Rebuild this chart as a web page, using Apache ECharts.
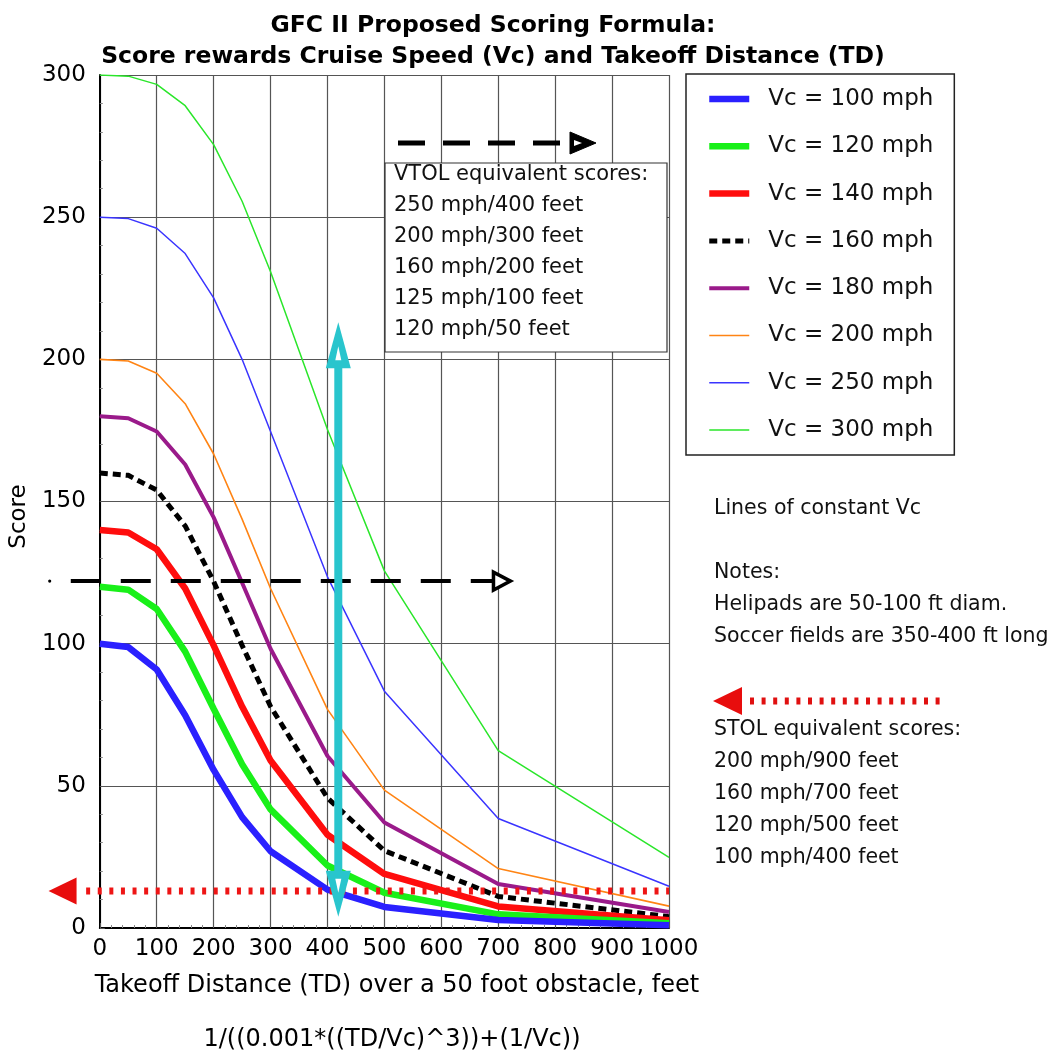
<!DOCTYPE html>
<html><head><meta charset="utf-8">
<script src="https://cdn.jsdelivr.net/npm/echarts@6/dist/echarts.min.js"></script>
<style>html,body{margin:0;padding:0;background:#fff}#c{width:1057px;height:1057px}</style>
</head><body><div id="c"></div>
<script>
// Takeoff distance (feet) sample points
const takeoffDistance = [0, 50, 100, 150, 200, 250, 300, 400, 500, 700, 1000];
// Scores
const vc100 = [100, 98.8, 90.9, 74.8, 55.6, 39.0, 27.0, 13.5, 7.4, 2.8, 1.0];
const vc120 = [120, 119.0, 112.2, 97.2, 77.1, 57.6, 41.7, 22.0, 12.4, 4.8, 1.7];
const vc140 = [140, 139.1, 133.2, 119.4, 99.4, 77.9, 58.9, 32.8, 19.0, 7.6, 2.7];
const vc160 = [160, 159.2, 154.0, 141.4, 121.9, 99.4, 77.9, 45.7, 27.2, 11.1, 4.0];
const vc180 = [180, 179.3, 174.6, 163.0, 144.4, 121.4, 98.2, 60.5, 37.1, 15.5, 5.6];
const vc200 = [200, 199.4, 195.1, 184.4, 166.7, 143.8, 119.4, 76.9, 48.5, 20.9, 7.7];
const vc250 = [250, 249.5, 246.1, 237.2, 221.6, 200.0, 174.6, 123.5, 83.3, 38.5, 14.7];
const vc300 = [300, 299.6, 296.7, 289.2, 275.5, 255.6, 230.8, 175.3, 125.6, 62.4, 24.8];
const seriesNames = ['Vc = 100 mph', 'Vc = 120 mph', 'Vc = 140 mph', 'Vc = 160 mph',
  'Vc = 180 mph', 'Vc = 200 mph', 'Vc = 250 mph', 'Vc = 300 mph'];

const titleLines = ['GFC II Proposed Scoring Formula:', 'Score rewards Cruise Speed (Vc) and Takeoff Distance (TD)'];
const xAxisTitle = 'Takeoff Distance (TD) over a 50 foot obstacle, feet';
const yAxisTitle = 'Score';
const formulaText = '1/((0.001*((TD/Vc)^3))+(1/Vc))';
const vtolLines = ['VTOL equivalent scores:', '250 mph/400 feet', '200 mph/300 feet',
  '160 mph/200 feet', '125 mph/100 feet', '120 mph/50 feet'];
const notesTop = ['Lines of constant Vc', '', 'Notes:', 'Helipads are 50-100 ft diam.', 'Soccer fields are 350-400 ft long'];
const stolLines = ['STOL equivalent scores:', '200 mph/900 feet', '160 mph/700 feet',
  '120 mph/500 feet', '100 mph/400 feet'];
// annotation levels (data space)
const vtolScoreLevel = 122;
const stolScoreLevel = 13;
const cyanArrowTD = 419;
const cyanArrowTop = 213;
const cyanArrowBottom = 4;

const FONT = 'DejaVu Sans';
const chart = echarts.init(document.getElementById('c'), null, {renderer: 'canvas'});

const styles = [
  {c: '#2a20ff', w: 6.5},
  {c: '#19f019', w: 6.5},
  {c: '#ff0d0d', w: 6.5},
  {c: '#000000', w: 5, t: [8, 5]},
  {c: '#9a1a8a', w: 4},
  {c: '#ff8414', w: 1.6},
  {c: '#3a34ff', w: 1.5},
  {c: '#2ae62a', w: 1.5}
];
const allVals = [vc100, vc120, vc140, vc160, vc180, vc200, vc250, vc300];

const series = allVals.map((vals, i) => ({
  name: seriesNames[i],
  type: 'line',
  data: takeoffDistance.map((x, j) => [x, vals[j]]),
  symbol: 'none',
  showSymbol: false,
  silent: true,
  animation: false,
  lineStyle: {color: styles[i].c, width: styles[i].w, type: styles[i].t || 'solid', cap: 'butt'},
  itemStyle: {color: styles[i].c},
  z: 2 + (7 - i) * 0.1
}));

const option = {
  animation: false,
  backgroundColor: '#ffffff',
  title: {
    text: titleLines.join('\n'),
    left: 488, top: 5, textAlign: 'center',
    textStyle: {fontFamily: FONT, fontSize: 23.5, fontWeight: 'bold', color: '#000', lineHeight: 31}
  },
  grid: {left: 99, top: 75, width: 570, height: 853, containLabel: false},
  legend: {
    orient: 'vertical', left: 686, top: 74,
    padding: [12, 21, 12, 20],
    itemWidth: 40, itemHeight: 14, itemGap: 21.3,
    borderColor: '#222', borderWidth: 1.5, backgroundColor: '#fff',
    selectedMode: false,
    itemStyle: {opacity: 0},
    lineStyle: {width: 'inherit', type: 'inherit'},
    textStyle: {fontFamily: FONT, fontSize: 23, color: '#111', padding: [0, 0, 0, 14], lineHeight: 26},
    data: seriesNames
  },
  xAxis: {
    type: 'value', min: 0, max: 1000, interval: 100,
    name: xAxisTitle, nameLocation: 'middle', nameGap: 46,
    nameTextStyle: {fontFamily: FONT, fontSize: 24, color: '#000', padding: [0, 0, 0, 25]},
    axisLine: {show: true, onZero: false, lineStyle: {color: '#000', width: 2}},
    axisTick: {show: true, inside: true, length: 5, lineStyle: {color: '#555'}},
    minorTick: {show: true, splitNumber: 5, length: 3, lineStyle: {color: '#888'}},
    axisLabel: {fontFamily: FONT, fontSize: 23, color: '#000', margin: 10, formatter: v => String(v)},
    splitLine: {show: true, lineStyle: {color: '#555', width: 1.2}}
  },
  yAxis: {
    type: 'value', min: 0, max: 300, interval: 50,
    name: yAxisTitle, nameLocation: 'middle', nameGap: 66, nameRotate: 90,
    nameTextStyle: {fontFamily: FONT, fontSize: 23, color: '#000', padding: [0, 30, 0, 0]},
    axisLine: {show: true, onZero: false, lineStyle: {color: '#000', width: 2}},
    axisTick: {show: true, inside: true, length: 5, lineStyle: {color: '#555'}},
    minorTick: {show: true, splitNumber: 5, length: 3, lineStyle: {color: '#888'}},
    axisLabel: {fontFamily: FONT, fontSize: 23, color: '#000', margin: 14, formatter: v => String(v)},
    splitLine: {show: true, lineStyle: {color: '#555', width: 1.2}}
  },
  series: series
};
chart.setOption(option);

const P = (x, y) => chart.convertToPixel({gridIndex: 0}, [x, y]);
const g = [];
const Z = 20;

// VTOL box
g.push({type: 'rect', z: Z, shape: {x: 385, y: 163, width: 282, height: 189},
  style: {fill: '#fff', stroke: '#333', lineWidth: 1.2}});
vtolLines.forEach((t, i) => g.push({type: 'text', z: Z + 1, x: 394, y: 175 + i * 31,
  style: {text: t, fontFamily: FONT, fontSize: 21, fill: '#111', verticalAlign: 'middle', align: 'left'}}));

// top dashed arrow (black, filled head)
(function () {
  const y = 143;
  g.push({type: 'line', z: Z, shape: {x1: 398, y1: y, x2: 575, y2: y},
    style: {stroke: '#000', lineWidth: 5, lineDash: [27, 18]}});
  g.push({type: 'polygon', z: Z, shape: {points: [[596, y], [570, y - 11], [570, y + 11]]},
    style: {fill: '#000', stroke: '#000', lineWidth: 1}});
  g.push({type: 'polygon', z: Z + 1, shape: {points: [[582, y], [574, y - 3], [574, y + 3]]},
    style: {fill: '#fff'}});
})();

// black dashed horizontal line at VTOL level, open head
(function () {
  const a = P(-51, vtolScoreLevel), b = P(693, vtolScoreLevel), tip = P(725, vtolScoreLevel);
  const d = P(-88, vtolScoreLevel);
  g.push({type: 'circle', z: Z, shape: {cx: d[0], cy: d[1], r: 1.6}, style: {fill: '#000'}});
  g.push({type: 'line', z: Z, shape: {x1: a[0], y1: a[1], x2: b[0], y2: b[1]},
    style: {stroke: '#000', lineWidth: 4, lineDash: [30, 20]}});
  g.push({type: 'polygon', z: Z, shape: {points: [[tip[0] - 2, tip[1]], [tip[0] - 19, tip[1] - 9], [tip[0] - 19, tip[1] + 9]]},
    style: {fill: '#fff', stroke: '#000', lineWidth: 3.5, lineJoin: 'miter'}});
})();

// red dotted line at STOL level with left head
(function () {
  const a = P(-24, stolScoreLevel), b = P(1000, stolScoreLevel), tip = P(-90, stolScoreLevel);
  g.push({type: 'line', z: Z, shape: {x1: a[0], y1: a[1], x2: b[0], y2: b[1]},
    style: {stroke: '#ee1515', lineWidth: 7, lineDash: [4, 7.6]}});
  g.push({type: 'polygon', z: Z, shape: {points: [[tip[0], tip[1]], [tip[0] + 28, tip[1] - 13.5], [tip[0] + 28, tip[1] + 13.5]]},
    style: {fill: '#e80d0d'}});
})();

// cyan double arrow
(function () {
  const top = P(cyanArrowTD, cyanArrowTop), bot = P(cyanArrowTD, cyanArrowBottom);
  const x = top[0], c = '#29c5cd';
  const headH = 46, halfW = 12.5;
  g.push({type: 'line', z: Z + 2, shape: {x1: x, y1: top[1] + headH - 2, x2: x, y2: bot[1] - headH + 2},
    style: {stroke: c, lineWidth: 8}});
  g.push({type: 'polygon', z: Z + 2, shape: {points: [[x, top[1]], [x - halfW, top[1] + headH], [x + halfW, top[1] + headH]]},
    style: {fill: c}});
  g.push({type: 'polygon', z: Z + 3, shape: {points: [[x, top[1] + 24], [x - 3, top[1] + 38], [x + 3, top[1] + 38]]},
    style: {fill: '#fff'}});
  g.push({type: 'polygon', z: Z + 2, shape: {points: [[x, bot[1]], [x - halfW, bot[1] - headH], [x + halfW, bot[1] - headH]]},
    style: {fill: c}});
  g.push({type: 'polygon', z: Z + 3, shape: {points: [[x, bot[1] - 24], [x - 3, bot[1] - 38], [x + 3, bot[1] - 38]]},
    style: {fill: '#fff'}});
})();

// right-side notes
notesTop.forEach((t, i) => {
  if (!t) return;
  const ys = [509, 541, 573, 605, 637];
  g.push({type: 'text', z: Z, x: 714, y: ys[i],
    style: {text: t, fontFamily: FONT, fontSize: 20.5, fill: '#111', verticalAlign: 'middle', align: 'left'}});
});
// right red dotted arrow
g.push({type: 'line', z: Z, shape: {x1: 750, y1: 701, x2: 942, y2: 701},
  style: {stroke: '#e01010', lineWidth: 7, lineDash: [4, 7.6]}});
g.push({type: 'polygon', z: Z, shape: {points: [[713, 701], [742, 687], [742, 715]]}, style: {fill: '#e80d0d'}});
stolLines.forEach((t, i) => g.push({type: 'text', z: Z, x: 714, y: 730 + i * 32,
  style: {text: t, fontFamily: FONT, fontSize: 20.5, fill: '#111', verticalAlign: 'middle', align: 'left'}}));

// formula
g.push({type: 'text', z: Z, x: 392, y: 1040,
  style: {text: formulaText, fontFamily: FONT, fontSize: 24, fill: '#000', align: 'center', verticalAlign: 'middle'}});

chart.setOption({graphic: g});
</script>
</body></html>
